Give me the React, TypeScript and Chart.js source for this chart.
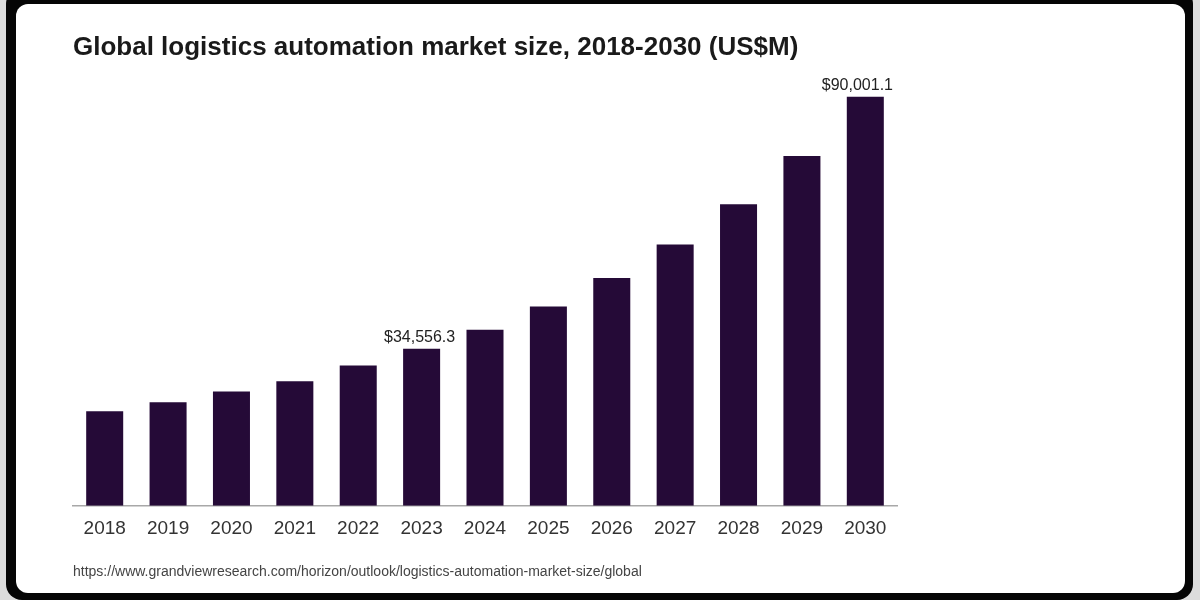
import React, { useEffect, useRef } from "react";
import { Chart, registerables } from "chart.js";

Chart.register(...registerables);

const years = ["2018", "2019", "2020", "2021", "2022", "2023", "2024", "2025", "2026", "2027", "2028", "2029", "2030"];
const marketSize = [20790, 22770, 25130, 27400, 30860, 34556.3, 38730, 43870, 50110, 57470, 66350, 76940, 90001.1];
const labeledYears = ["2023", "2030"];
const titleText = "Global logistics automation market size, 2018-2030 (US$M)";
const sourceText = "https://www.grandviewresearch.com/horizon/outlook/logistics-automation-market-size/global";

const FONT = '"Liberation Sans", Arial, Helvetica, sans-serif';
const BAR_COLOR = "#250a37";

const valueLabelPlugin = {
  id: "valueLabels",
  afterDatasetsDraw(chart: any) {
    const meta = chart.getDatasetMeta(0);
    const ctx = chart.ctx;
    const area = chart.chartArea;
    ctx.save();
    ctx.font = `16px ${FONT}`;
    ctx.fillStyle = "#222222";
    ctx.textAlign = "center";
    ctx.textBaseline = "alphabetic";
    meta.data.forEach((bar: any, i: number) => {
      if (!labeledYears.includes(years[i])) return;
      const v = marketSize[i];
      const txt = "$" + v.toLocaleString("en-US", { minimumFractionDigits: 1, maximumFractionDigits: 1 });
      const w = ctx.measureText(txt).width;
      let cx = bar.x - 2;
      if (cx + w / 2 > area.right - 4) cx = area.right - 4 - w / 2;
      ctx.fillText(txt, cx, bar.y - 7);
    });
    ctx.restore();
  },
};

export default function App() {
  const canvasRef = useRef<HTMLCanvasElement | null>(null);

  useEffect(() => {
    if (!canvasRef.current) return;
    const chart = new Chart(canvasRef.current, {
      type: "bar",
      data: {
        labels: years,
        datasets: [
          {
            data: marketSize,
            backgroundColor: BAR_COLOR,
            borderWidth: 0,
            categoryPercentage: 1,
            barPercentage: 0.584,
          },
        ],
      },
      options: {
        responsive: false,
        animation: false,
        devicePixelRatio: 1,
        layout: { padding: { left: 73, right: 303, top: 10, bottom: 12 } },
        plugins: {
          legend: { display: false },
          tooltip: { enabled: false },
          title: {
            display: true,
            text: titleText,
            align: "start",
            color: "#1a1a1a",
            font: { family: FONT, size: 26, weight: "bold" },
            padding: { top: 22, bottom: 15.2 },
          },
          subtitle: {
            display: true,
            text: sourceText,
            position: "bottom",
            align: "start",
            color: "#444444",
            font: { family: FONT, size: 14 },
            padding: { top: 11, bottom: 7.6 },
          },
        },
        scales: {
          x: {
            grid: { display: false, drawTicks: false, tickLength: 0 },
            border: { display: true, color: "#a8a8a8", width: 1.5 },
            ticks: { color: "#333333", font: { family: FONT, size: 19 }, padding: 12, maxRotation: 0 },
          },
          y: {
            display: false,
            min: 0,
            max: 94040,
          },
        },
      },
      plugins: [valueLabelPlugin],
    });
    return () => chart.destroy();
  }, []);

  return (
    <div style={{ position: "fixed", left: 0, top: 0, width: 1200, height: 600, background: "#dcdcdc", overflow: "hidden" }}>
      <div style={{ position: "absolute", left: 6, top: -12, width: 1187, height: 612, background: "#050505", borderRadius: 16 }} />
      <div style={{ position: "absolute", left: 16, top: 4, width: 1169, height: 589, background: "#ffffff", borderRadius: 12 }} />
      <canvas ref={canvasRef} width={1200} height={600} style={{ position: "absolute", left: 0, top: 0, width: 1200, height: 600 }} />
    </div>
  );
}
